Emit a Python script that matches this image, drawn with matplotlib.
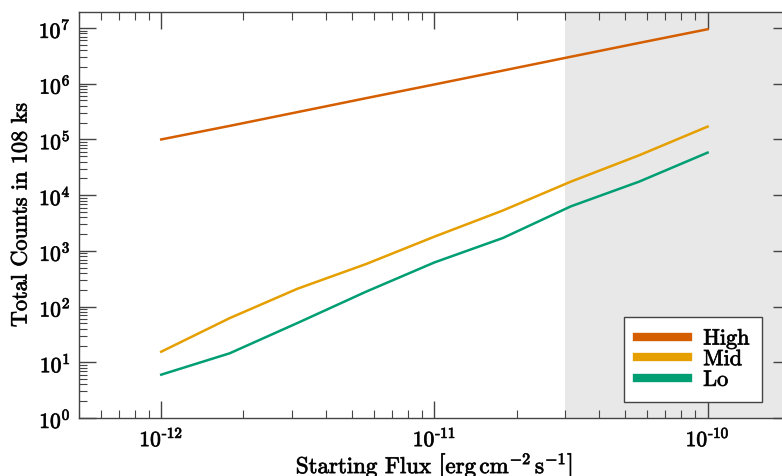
import numpy as np
import matplotlib
matplotlib.use("Agg")
import matplotlib.pyplot as plt
import matplotlib.ticker as mticker
import matplotlib.patheffects as pe

plt.rcParams['font.family'] = 'serif'
plt.rcParams['font.serif'] = ['cmr10']
plt.rcParams['mathtext.fontset'] = 'cm'
plt.rcParams['axes.formatter.use_mathtext'] = True

#%% counts vs starting flux for the three bands
flux = [1.0e-12, 1.78e-12, 3.16e-12, 5.62e-12, 1.0e-11, 1.78e-11, 3.16e-11, 5.62e-11, 1.0e-10]
high = [1.0e5, 1.75e5, 3.1e5, 5.5e5, 9.7e5, 1.72e6, 3.05e6, 5.4e6, 9.5e6]
mid = [15.5, 62, 210, 580, 1800, 5300, 17500, 52000, 170000]
lo = [6.0, 14.5, 51, 185, 620, 1700, 6300, 17500, 58000]

shade_start = 3e-11

labels = ['High', 'Mid', 'Lo']
colours = ['#d55e00', '#e69f00', '#009e73']
edge = '#444444'
heavy = [pe.withStroke(linewidth=0.6, foreground='#222222')]


def pow10(val, pos):
    # hyphen style exponent, e.g. 10^-12
    k = int(round(np.log10(val)))
    if k < 0:
        return r'$10^{\text{-}%d}$' % (-k)
    return r'$10^{%d}$' % k


#%% plot
fig = plt.figure(figsize=(7.82, 4.76), dpi=100)
ax = fig.add_axes([0.101, 0.1218, 0.909, 0.852])

ax.axvspan(shade_start, 2e-10, color='#e8e8e8', zorder=0, lw=0)

for count, ys in enumerate([high, mid, lo]):
    ax.plot(flux, ys, color=colours[count], lw=1.8, label=labels[count])

ax.set_xscale('log')
ax.set_yscale('log')
ax.set_xlim(5e-13, 2e-10)
ax.set_ylim(1, 1.9e7)
ax.set_xticks([1e-12, 1e-11, 1e-10])
ax.set_yticks([10.0**k for k in range(8)])
ax.xaxis.set_major_formatter(mticker.FuncFormatter(pow10))
ax.yaxis.set_major_formatter(mticker.FuncFormatter(pow10))

for sp in ax.spines.values():
    sp.set_color(edge)
    sp.set_linewidth(1.0)

ax.tick_params(which='both', direction='in', top=True, right=True, color=edge,
               labelsize=15.5, pad=6)
ax.tick_params(which='major', length=12, width=1.0)
ax.tick_params(which='minor', length=6, width=0.8)

ax.set_ylabel('Total Counts in 108 ks', fontsize=16, labelpad=6)
ax.set_xlabel(r'Starting Flux $\left[\mathrm{erg\,cm^{-2}\,s^{-1}}\right]$', fontsize=16.5, labelpad=0)

leg = ax.legend(loc='lower right', bbox_to_anchor=(0.9606, 0.0394), borderaxespad=0,
                fancybox=False, edgecolor=edge, framealpha=1, fontsize=16,
                handlelength=2.3, handletextpad=0.7, labelspacing=0.05,
                borderpad=0.55)
leg.get_frame().set_linewidth(1.0)
for line in leg.get_lines():
    line.set_linewidth(6)

# heavier text
texts = [ax.xaxis.label, ax.yaxis.label] + leg.get_texts()
texts += ax.get_xticklabels() + ax.get_yticklabels()
for t in texts:
    t.set_path_effects(heavy)

plt.savefig('out.png', dpi=100)
